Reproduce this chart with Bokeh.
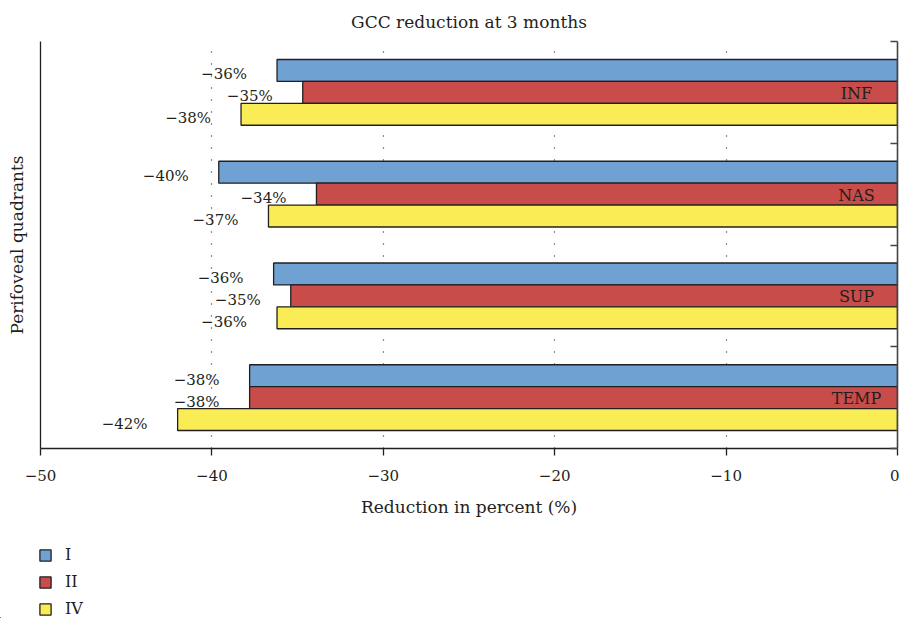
from bokeh.plotting import figure
from bokeh.layouts import column
from bokeh.models import (FactorRange, Range1d, LinearAxis, FixedTicker,
                          ColumnDataSource, Legend, LegendItem)
from bokeh.core.properties import value
from bokeh.embed import file_html
from bokeh.resources import INLINE

# ---------------- data ----------------
quadrants = ["INF", "NAS", "SUP", "TEMP"]
series = ["I", "II", "IV"]
colors = ["#6fa1d3", "#c84c4a", "#f9ec54"]
vals_I = [-36.2, -39.6, -36.4, -37.8]
vals_II = [-34.7, -33.9, -35.4, -37.8]
vals_IV = [-38.3, -36.7, -36.2, -42.0]
x_ticks = [-50, -40, -30, -20, -10, 0]
title_text = "GCC reduction at 3 months"
x_label = "Reduction in percent (%)"
y_label = "Perifoveal quadrants"

FONT = "DejaVu Serif"
INK = "#231f20"
GPAD = 1.64


def minus(v):
    return str(v).replace("-", "\u2212")


# factors listed bottom-to-top so INF / I ends up on top
factors = [(q, s) for q in reversed(quadrants) for s in reversed(series)]
y_range = FactorRange(factors=factors, factor_padding=0.0, group_padding=GPAD,
                      range_padding=GPAD / 2, range_padding_units="absolute")

p = figure(width=899, height=530, x_range=Range1d(-50, 0), y_range=y_range,
           output_backend="svg", toolbar_location=None, y_axis_location=None,
           min_border_left=40, min_border_right=2, min_border_top=40,
           min_border_bottom=82, outline_line_color=None)

# title
p.title.text = title_text
p.title.align = "center"
p.title.text_font = FONT
p.title.text_font_size = "17px"
p.title.text_font_style = "normal"
p.title.text_color = INK
p.title.standoff = 19

# x axis
xa = p.xaxis[0]
xa.ticker = FixedTicker(ticks=x_ticks)
xa.major_label_overrides = {t: minus(t) for t in x_ticks}
xa.major_label_text_font = FONT
xa.major_label_text_font_size = "15px"
xa.major_label_text_color = INK
xa.major_label_standoff = 14
xa.major_tick_in = 0
xa.major_tick_out = 7
xa.minor_tick_line_color = None
xa.axis_line_color = INK
xa.axis_line_width = 1.3
xa.major_tick_line_color = INK
xa.major_tick_line_width = 1.3
xa.axis_label = x_label
xa.axis_label_text_font = FONT
xa.axis_label_text_font_size = "17px"
xa.axis_label_text_font_style = "normal"
xa.axis_label_text_color = INK
xa.axis_label_standoff = 13

p.xgrid.ticker = FixedTicker(ticks=x_ticks)
p.xgrid.grid_line_color = INK
p.xgrid.grid_line_dash = "1 11"
p.xgrid.grid_line_width = 1.2
p.ygrid.visible = False

# left axis: plain line with title
ya = LinearAxis(ticker=FixedTicker(ticks=[]), axis_label=y_label,
                axis_label_text_font=FONT, axis_label_text_font_size="17px",
                axis_label_text_font_style="normal", axis_label_text_color=INK,
                axis_label_standoff=14, major_label_standoff=0,
                major_tick_out=0, major_tick_in=0, minor_tick_line_color=None,
                axis_line_color=INK, axis_line_width=1.3)
p.add_layout(ya, "left")

# right line at zero with ticks at the group boundaries (synthetic coordinates)
n_s = len(series)
bounds = [k * (n_s + GPAD) - GPAD / 2 for k in range(len(quadrants) + 1)]
ra = LinearAxis(ticker=FixedTicker(ticks=[], minor_ticks=bounds),
                major_label_standoff=0, major_tick_out=0, major_tick_in=0,
                minor_tick_out=0, minor_tick_in=7,
                axis_line_color="#444444", axis_line_width=1.6,
                minor_tick_line_color="#444444", minor_tick_line_width=1.3)
p.add_layout(ra, "right")

# bars and value labels
for s, vals, col in zip(series, [vals_I, vals_II, vals_IV], colors):
    src = ColumnDataSource(dict(
        y=[(q, s) for q in quadrants],
        x=vals,
        label=[minus(-round(abs(v))) + "%" for v in vals],
    ))
    p.hbar(y="y", left="x", right=0, height=1.0, source=src,
           fill_color=col, line_color=INK, line_width=1.3)
    p.text(x="x", y="y", text="label", source=src, text_align="right",
           text_baseline="middle", x_offset=-30, y_offset=4,
           text_font=value(FONT), text_font_size="15px", text_color=INK)

# quadrant names inside the middle bar
qsrc = ColumnDataSource(dict(y=[(q, "II") for q in quadrants], name=quadrants))
p.text(x=0, y="y", text="name", source=qsrc, text_align="center",
       text_baseline="middle", x_offset=-41, y_offset=1,
       text_font=value(FONT), text_font_size="16px", text_color=INK)

# ---------------- legend strip below the chart ----------------
lf = figure(width=899, height=88, x_range=Range1d(100, 101), y_range=Range1d(100, 101),
            output_backend="svg", toolbar_location=None, x_axis_location=None,
            y_axis_location=None, min_border=0, outline_line_color=None, title=None,
            border_fill_color="white")
if "frame_align" in lf.properties():
    lf.frame_align = False
lf.xgrid.visible = False
lf.ygrid.visible = False
# swatch renderers reuse the series values; they lie outside this strip's ranges
swatches = [lf.hbar(y=0.5, left=vals, right=0, height=1.0, fill_color=col,
                    line_color=INK, line_width=1.3)
            for vals, col in zip([vals_I, vals_II, vals_IV], colors)]
legend = Legend(items=[LegendItem(label=s, renderers=[r]) for s, r in zip(series, swatches)],
                location=(38, 0), orientation="vertical", padding=0, margin=0,
                border_line_color=None, background_fill_alpha=0,
                glyph_width=14, glyph_height=14, label_standoff=13, spacing=8,
                label_height=19, label_text_font=FONT, label_text_font_size="16px",
                label_text_color=INK)
lf.add_layout(legend)

page = column(p, lf, spacing=0)
open("out.html", "w").write(file_html(page, INLINE))
